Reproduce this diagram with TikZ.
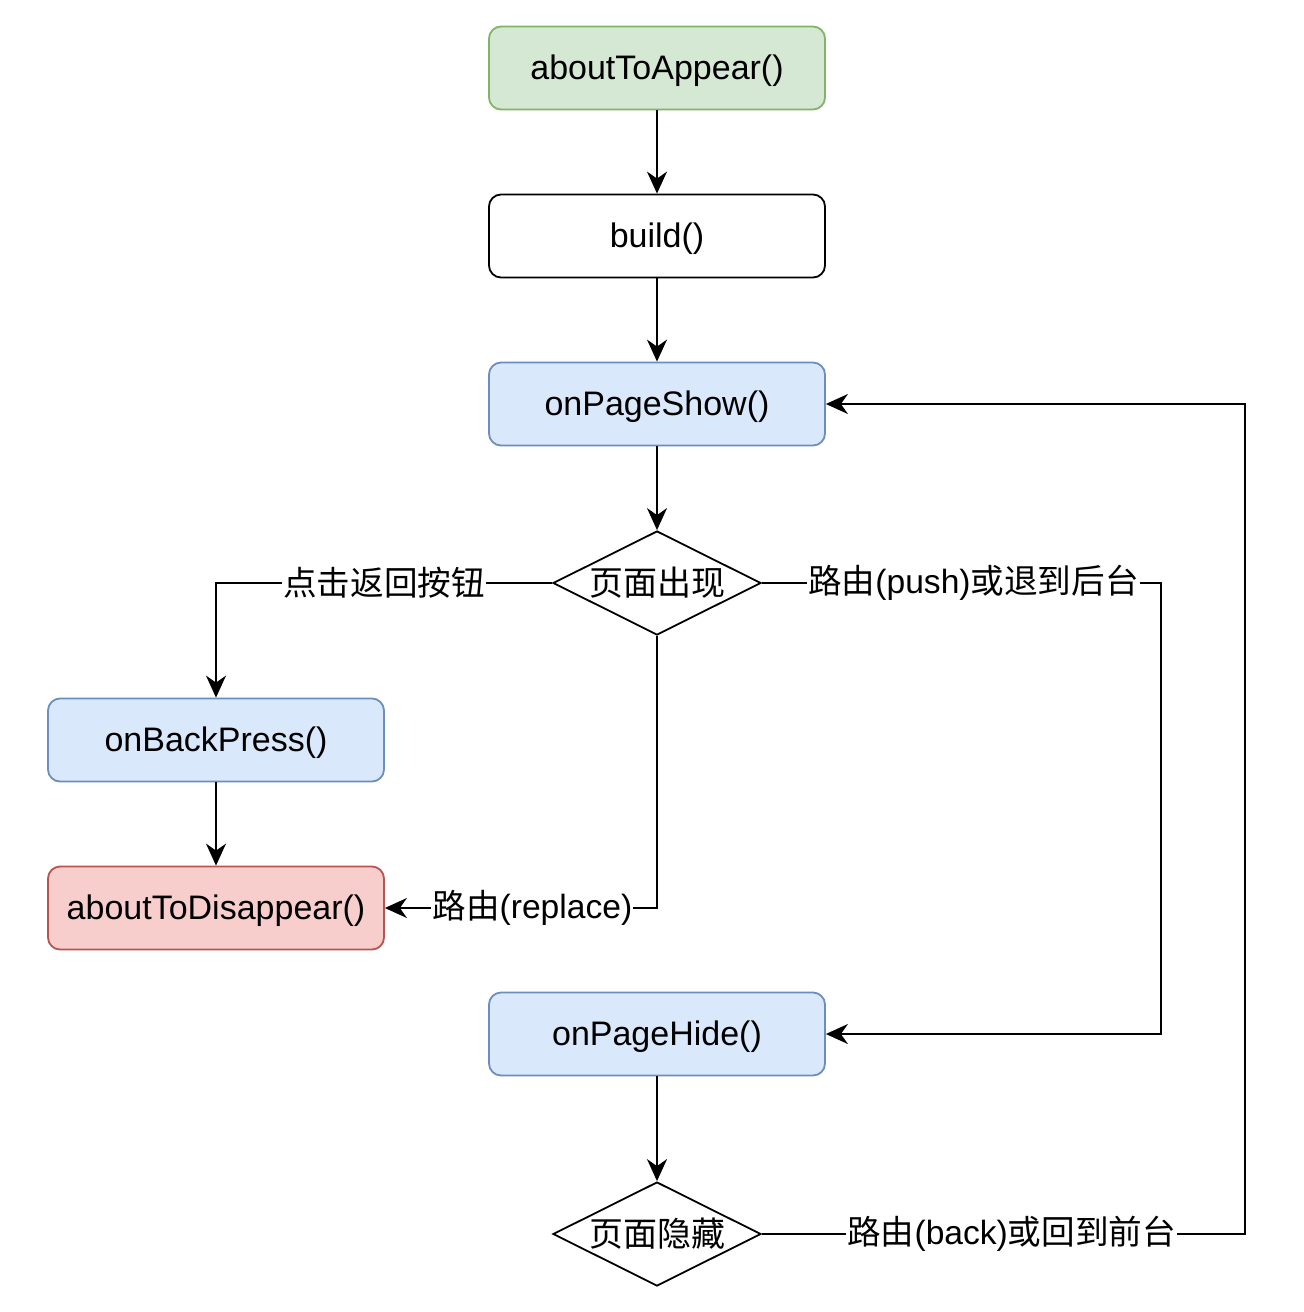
\documentclass[tikz,border=0pt]{standalone}
\usepackage{fontspec}
\setmainfont{Liberation Sans}
\newfontfamily\cjk{Noto Sans CJK SC}
\usetikzlibrary{positioning,shapes.geometric,arrows.meta}
\definecolor{greenfill}{HTML}{D5E8D4}
\definecolor{greenline}{HTML}{82B366}
\definecolor{bluefill}{HTML}{DAE8FC}
\definecolor{blueline}{HTML}{6C8EBF}
\definecolor{redfill}{HTML}{F8CECC}
\definecolor{redline}{HTML}{B85450}
\newcommand{\zh}[1]{{\cjk #1}}
\tikzset{
  stage/.style={draw,rectangle,rounded corners=6pt,line width=0.9pt,
    minimum width=168pt,minimum height=41.5pt,inner sep=0pt,
    text height=15pt,text depth=3.6pt,
    font=\fontsize{17}{20}\selectfont},
  check/.style={draw,diamond,aspect=2,line width=0.9pt,
    minimum width=104pt,minimum height=52pt,inner sep=0pt,
    font=\fontsize{17}{20}\selectfont\cjk},
  flow/.style={-{Stealth[length=11pt,width=10pt,inset=3.5pt]},line width=0.9pt},
  lbl/.style={fill=white,inner sep=0.5pt,anchor=center,
    font=\fontsize{16.8}{20}\selectfont}
}
\begin{document}
\begin{tikzpicture}[node distance=84pt,on grid]
			\useasboundingbox (0,0) rectangle (652pt,-656pt);
			\node[stage,fill=greenfill,draw=greenline](appear) at (328.5pt,-34pt) {aboutToAppear()};
			\node[stage](build)[below=of appear] {build()};
			\node[stage,fill=bluefill,draw=blueline](show)[below=of build] {onPageShow()};
			\node[check](shown)[below=89.5pt of show] {页面出现};
			\node[stage,fill=bluefill,draw=blueline](back)[below left=78.5pt and 220.5pt of shown] {onBackPress()};
			\node[stage,fill=redfill,draw=redline](disappear)[below=of back] {aboutToDisappear()};
			\node[stage,fill=bluefill,draw=blueline](hide)[below=225.5pt of shown] {onPageHide()};
			\node[check](hidden)[below=100pt of hide] {页面隐藏};
			\coordinate (pushturn) at (580.5pt,-291.5pt);
			\coordinate (backturn) at (622.5pt,-617pt);
			\draw[flow] (appear) -- (build);
			\draw[flow] (build) -- (show);
			\draw[flow] (show) -- (shown);
			\draw[flow] (back) -- (disappear);
			\draw[flow] (hide) -- (hidden);
			% branches of the two checks
			\draw[flow] (shown.west) -| node[lbl,pos=0.25] {\zh{点击返回按钮}} (back.north);
			\draw[flow] (shown.south) |- node[lbl,pos=0.729] {\zh{路由}(replace)} (disappear.east);
			\draw[flow] (shown.east) -- node[lbl,pos=0.53] {\zh{路由}(push)\zh{或退到后台}} (pushturn) |- (hide.east);
			\draw[flow] (hidden.east) -- node[lbl,pos=0.517] {\zh{路由}(back)\zh{或回到前台}} (backturn) |- (show.east);
\end{tikzpicture}
\end{document}
